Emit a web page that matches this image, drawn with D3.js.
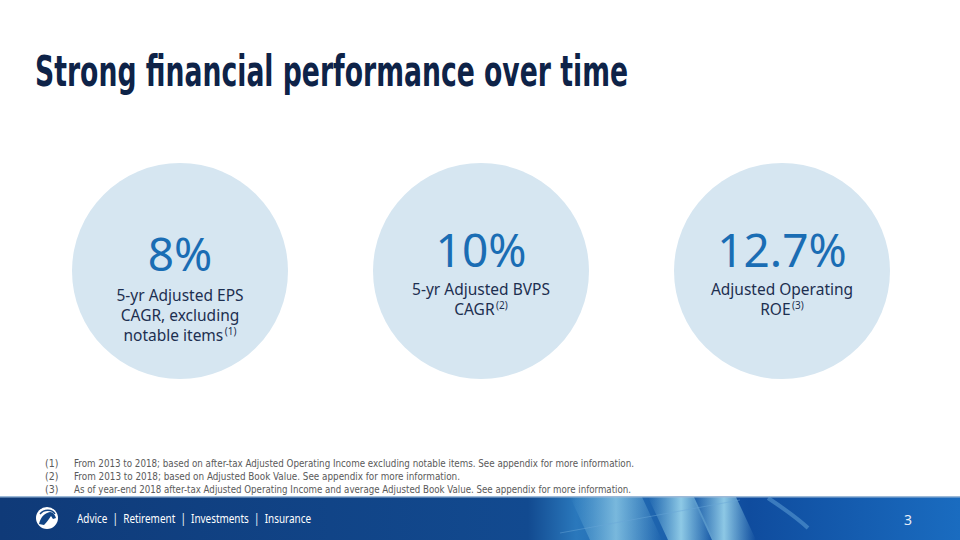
<!DOCTYPE html>
<html lang="en">
<head>
<meta charset="UTF-8">
<title>Strong financial performance over time</title>
<script src="https://cdn.jsdelivr.net/npm/d3@7"></script>
<style>
  body { margin: 0; background: #fff; }
  svg { display: block; }
</style>
</head>
<body>
<script>
// slide data
const metrics = ['eps', 'bvps', 'roe']
const values = ['8%', '10%', '12.7%']
const labelLines = [
    ['5-yr Adjusted EPS', 'CAGR, excluding', 'notable items'],
    ['5-yr Adjusted BVPS', 'CAGR'],
    ['Adjusted Operating', 'ROE']
]
const noteRefs = ['(1)', '(2)', '(3)']
const footnotes = [
    'From 2013 to 2018; based on after-tax Adjusted Operating Income excluding notable items. See appendix for more information.',
    'From 2013 to 2018; based on Adjusted Book Value. See appendix for more information.',
    'As of year-end 2018 after-tax Adjusted Operating Income and average Adjusted Book Value. See appendix for more information.'
]
const footnoteWidths = [560, 386, 557]
const tagline = 'Advice  |  Retirement  |  Investments  |  Insurance'
const pageNumber = '3'

const width = 960
const height = 540

const svg = d3.select('body').append('svg')
    .attr('width', width)
    .attr('height', height)

const defs = svg.append('defs')

const bandGrad = defs.append('linearGradient')
    .attr('id', 'bandfill')
    .attr('x1', '0').attr('x2', '1').attr('y1', '0').attr('y2', '0')
bandGrad.append('stop').attr('offset', '0').attr('stop-color', '#0f3a78')
bandGrad.append('stop').attr('offset', '0.55').attr('stop-color', '#124a90')
bandGrad.append('stop').attr('offset', '0.6').attr('stop-color', '#2a78bc')
bandGrad.append('stop').attr('offset', '0.78').attr('stop-color', '#0f4c9e')
bandGrad.append('stop').attr('offset', '1').attr('stop-color', '#1a6cc0')

const streakGrad = defs.append('linearGradient')
    .attr('id', 'streak')
    .attr('x1', '0').attr('x2', '1').attr('y1', '0').attr('y2', '0')
streakGrad.append('stop').attr('offset', '0').attr('stop-color', '#8fd0ea').attr('stop-opacity', 0)
streakGrad.append('stop').attr('offset', '0.5').attr('stop-color', '#a2dcf0').attr('stop-opacity', 0.9)
streakGrad.append('stop').attr('offset', '1').attr('stop-color', '#8fd0ea').attr('stop-opacity', 0)

// title
svg.append('text')
    .attr('x', 35)
    .attr('y', 86)
    .attr('font-family', 'DejaVu Sans Condensed, DejaVu Sans')
    .attr('font-weight', 'bold')
    .attr('font-size', 42)
    .attr('fill', '#0e2348')
    .attr('textLength', 593)
    .attr('lengthAdjust', 'spacingAndGlyphs')
    .text('Strong financial performance over time')

// circles
const x = d3.scalePoint()
    .domain(metrics)
    .range([180, 782])

const cy = 271
const r = 108

const g = svg.selectAll('g.metric')
    .data(metrics)
    .enter()
    .append('g')
    .attr('class', 'metric')
    .attr('transform', (d) => `translate(${x(d)},${cy})`)

g.append('circle')
    .attr('r', r)
    .attr('fill', '#d6e6f1')

g.append('text')
    .attr('text-anchor', 'middle')
    .attr('y', (d, i) => i === 0 ? 0 : -4)
    .attr('font-family', 'Noto Sans')
    .attr('font-size', 46)
    .attr('fill', '#1a6db4')
    .text((d, i) => values[i])

g.each(function (d, i) {
    const sel = d3.select(this)
    const lines = labelLines[i]
    const top = i === 0 ? 30 : 24
    lines.forEach((line, j) => {
        const y = top + j * 20
        const t = sel.append('text')
            .attr('y', y)
            .attr('font-family', 'Noto Sans')
            .attr('font-size', 15.5)
            .attr('fill', '#1d2f50')
            .text(line)
        if (j < lines.length - 1) {
            t.attr('text-anchor', 'middle').attr('x', 0)
            return
        }
        // last line carries the footnote marker, centred together
        const sup = sel.append('text')
            .attr('y', y - 6)
            .attr('font-family', 'Noto Sans')
            .attr('font-size', 10)
            .attr('fill', '#1d2f50')
            .text(noteRefs[i])
        const w = t.node().getComputedTextLength()
        const s = sup.node().getComputedTextLength()
        const gap = 1.5
        const start = -(w + s + gap) / 2
        t.attr('x', start)
        sup.attr('x', start + w + gap)
    })
})

// footnotes
const notes = svg.append('g')
    .attr('font-family', 'DejaVu Sans Condensed, DejaVu Sans')
    .attr('font-size', 10.5)
    .attr('fill', '#5a5a5a')

notes.selectAll('text.ref')
    .data(noteRefs)
    .enter()
    .append('text')
    .attr('class', 'ref')
    .attr('x', 45)
    .attr('y', (d, i) => 467 + i * 12.8)
    .text((d) => d)

notes.selectAll('text.note')
    .data(footnotes)
    .enter()
    .append('text')
    .attr('class', 'note')
    .attr('x', 74)
    .attr('y', (d, i) => 467 + i * 12.8)
    .attr('textLength', (d, i) => footnoteWidths[i])
    .attr('lengthAdjust', 'spacingAndGlyphs')
    .text((d) => d)

// footer band
const bandTop = 497
const lean = 20
const band = svg.append('g')

band.append('rect')
    .attr('x', 0)
    .attr('y', bandTop)
    .attr('width', width)
    .attr('height', height - bandTop)
    .attr('fill', 'url(#bandfill)')

// light streaks leaning down to the right: [left, right] at the band top
const streaks = [[570, 642], [648, 694], [692, 736]]
band.selectAll('path.streak')
    .data(streaks)
    .enter()
    .append('path')
    .attr('class', 'streak')
    .attr('d', (d) => d3.line()([[d[0], bandTop], [d[1], bandTop], [d[1] + lean, height], [d[0] + lean, height]]) + 'Z')
    .attr('fill', 'url(#streak)')
    .attr('opacity', (d, i) => i === 0 ? 0.75 : 0.95)

band.append('rect')
    .attr('x', 0)
    .attr('y', 496)
    .attr('width', width)
    .attr('height', 1.5)
    .attr('fill', '#9dbad8')

// faint highlights
band.append('path')
    .attr('d', 'M560,533 L740,500')
    .attr('stroke', '#6aa7d8')
    .attr('stroke-width', 0.8)
    .attr('opacity', 0.6)
band.append('path')
    .attr('d', 'M768,498 C780,506 795,516 808,528')
    .attr('stroke', '#6fb0e0')
    .attr('stroke-width', 4)
    .attr('fill', 'none')
    .attr('opacity', 0.45)

// logo
const logo = band.append('g').attr('transform', 'translate(47,518)')
logo.append('circle')
    .attr('r', 11)
    .attr('fill', '#ffffff')
logo.append('path')
    .attr('d', 'M-8,6 C-6,-2 -2,-5 3,-6 C6,-6 8,-3 9,0 L6,1 L4,-2 C2,1 0,4 -3,7 Z')
    .attr('fill', '#124585')
logo.append('path')
    .attr('d', 'M-7,-4 C-3,-9 5,-9 8,-4')
    .attr('stroke', '#124585')
    .attr('stroke-width', 1.4)
    .attr('fill', 'none')

band.append('text')
    .attr('x', 77)
    .attr('y', 523)
    .attr('font-family', 'Noto Sans')
    .attr('font-size', 12.5)
    .attr('fill', '#ffffff')
    .attr('textLength', 234)
    .attr('lengthAdjust', 'spacingAndGlyphs')
    .style('white-space', 'pre')
    .text(tagline)

band.append('text')
    .attr('x', 908)
    .attr('y', 525)
    .attr('text-anchor', 'middle')
    .attr('font-family', 'Noto Sans')
    .attr('font-size', 14)
    .attr('fill', '#e6eef8')
    .text(pageNumber)
</script>
</body>
</html>
